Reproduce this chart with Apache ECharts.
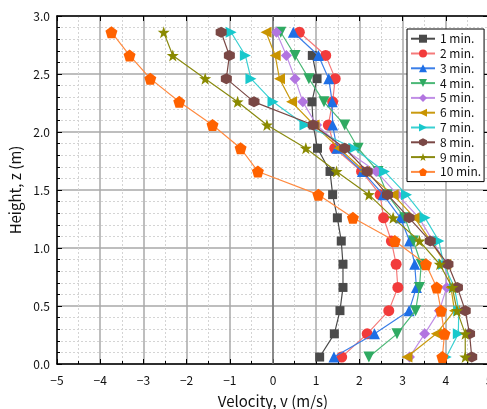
<!DOCTYPE html>
<html>
<head>
<meta charset="utf-8">
<script src="https://cdn.jsdelivr.net/npm/echarts@6/dist/echarts.min.js"></script>
<style>html,body{margin:0;padding:0;background:#fff;}#c{width:487px;height:409px;}</style>
</head>
<body>
<div id="c"></div>
<script>
// Heights (m), top to bottom
var heights = [2.86, 2.66, 2.46, 2.26, 2.06, 1.86, 1.66, 1.46, 1.26, 1.06, 0.86, 0.66, 0.46, 0.26, 0.06];
var seriesNames = ['1 min.', '2 min.', '3 min.', '4 min.', '5 min.', '6 min.', '7 min.', '8 min.', '9 min.', '10 min.'];
// Velocity (m/s) at each height
var v1  = [null, 0.91, 1.02, 0.90, 0.93, 1.03, 1.32, 1.38, 1.49, 1.58, 1.62, 1.62, 1.55, 1.42, 1.08];
var v2  = [0.61, 1.22, 1.44, 1.38, 1.28, 1.43, 2.05, 2.48, 2.56, 2.74, 2.85, 2.89, 2.68, 2.18, 1.59];
var v3  = [0.47, 1.05, 1.29, 1.37, 1.38, 1.48, 2.07, 2.55, 2.95, 3.16, 3.28, 3.32, 3.15, 2.35, 1.41];
var v4  = [0.18, 0.51, 0.83, 1.18, 1.66, 1.97, 2.43, 2.65, 3.05, 3.25, 3.43, 3.39, 3.30, 2.87, 2.22];
var v5  = [0.08, 0.31, 0.51, 0.69, 1.01, 1.62, 2.39, 2.88, 3.38, 3.70, 4.00, 4.02, 3.85, 3.51, 3.16];
var v6  = [-0.16, 0.05, 0.15, 0.43, 0.95, 1.53, 2.12, 2.78, 3.28, 3.65, 4.00, 4.12, 4.20, 3.78, 3.10];
var v7  = [-0.97, -0.64, -0.51, 0.00, 0.74, 1.87, 2.58, 3.09, 3.52, 3.84, 3.95, 4.20, 4.30, 4.29, 4.01];
var v8  = [-1.20, -1.01, -1.08, -0.44, 0.93, 1.66, 2.18, 2.65, 3.15, 3.64, 4.05, 4.27, 4.45, 4.55, 4.60];
var v9  = [-2.53, -2.32, -1.57, -0.82, -0.14, 0.76, 1.47, 2.22, 2.78, 3.39, 3.86, 4.15, 4.26, 4.45, 4.45];
var v10 = [-3.74, -3.32, -2.84, -2.17, -1.40, -0.75, -0.35, 1.05, 1.85, 2.82, 3.54, 3.79, 3.89, 3.97, 3.92];
var xTicks = [-5, -4, -3, -2, -1, 0, 1, 2, 3, 4, 5];
var yTicks = [0.0, 0.5, 1.0, 1.5, 2.0, 2.5, 3.0];

var values = [v1, v2, v3, v4, v5, v6, v7, v8, v9, v10];
var markerColors = ['#4a4a4a', '#f23b3b', '#1e6fe6', '#2faa62', '#b275e0', '#c99400', '#18c8cc', '#7a4845', '#8a8a00', '#ff6200'];
var lineColors   = ['#4a4a4a', '#f57a7a', '#3b7fe8', '#4cb877', '#c08ee6', '#c99a10', '#3ad0d2', '#7a4845', '#8a8a10', '#ff8a40'];
var hexPath = 'path://M0,-10 L8.66,-5 L8.66,5 L0,10 L-8.66,5 L-8.66,-5Z';
var starPath = 'path://M0,-10 L2.35,-3.24 L9.51,-3.09 L3.8,1.24 L5.88,8.09 L0,4 L-5.88,8.09 L-3.8,1.24 L-9.51,-3.09 L-2.35,-3.24Z';
var pentPath = 'path://M0,-10 L9.51,-3.09 L5.88,8.09 L-5.88,8.09 L-9.51,-3.09Z';
var symbols = ['rect', 'circle', 'triangle', 'triangle', 'diamond', 'triangle', 'triangle', hexPath, starPath, pentPath];
var rotates = [0, 0, 0, 180, 0, 90, -90, 0, 0, 0];
var sizes = [9, 11, 11, 11, 11, 11, 11, 11, 12, 12];

var FONT = 'Noto Sans CJK JP';
function fmtNum(v) { return String(v).replace('-', '\u2212'); }

var series = values.map(function (arr, i) {
  var data = [];
  for (var k = 0; k < heights.length; k++) {
    if (arr[k] !== null) data.push([arr[k], heights[k]]);
  }
  var s = {
    name: seriesNames[i],
    type: 'line',
    data: data,
    symbol: symbols[i],
    symbolRotate: rotates[i],
    symbolSize: sizes[i],
    showAllSymbol: true,
    lineStyle: { color: lineColors[i], width: 1.2 },
    itemStyle: { color: markerColors[i], borderWidth: 0 },
    z: 3 + i,
    animation: false
  };
  if (i === 0) {
    s.markLine = {
      silent: true, symbol: 'none', label: { show: false },
      lineStyle: { color: '#777', width: 1.5, type: 'solid' },
      data: [{ xAxis: 0 }], animation: false
    };
  }
  return s;
});

var chart = echarts.init(document.getElementById('c'), null, { renderer: 'canvas' });
chart.setOption({
  animation: false,
  backgroundColor: '#fff',
  grid: { left: 57, right: -2, top: 16, bottom: 45, containLabel: false, outerBoundsMode: 'none' },
  legend: {
    orient: 'vertical', left: 407, top: 29,
    data: seriesNames,
    backgroundColor: '#fff', borderColor: '#000', borderWidth: 1,
    padding: [3, 3, 3, 3],
    itemWidth: 24, itemHeight: 10, itemGap: 1.4,
    textStyle: { fontFamily: FONT, fontSize: 12, color: '#111', lineHeight: 13.4 }
  },
  xAxis: [{
    type: 'value', min: xTicks[0], max: xTicks[xTicks.length - 1], interval: 1,
    name: 'Velocity, v (m/s)', nameLocation: 'middle', nameGap: 30,
    nameTextStyle: { fontFamily: FONT, fontSize: 15, color: '#111' },
    axisLine: { show: true, onZero: false, lineStyle: { color: '#000', width: 1.5 } },
    axisTick: { show: true, inside: true, length: 5, lineStyle: { color: '#000' } },
    minorTick: { show: true, splitNumber: 2, length: 3, lineStyle: { color: '#000' } },
    axisLabel: { fontFamily: FONT, fontSize: 12, color: '#111', margin: 10, formatter: fmtNum },
    splitLine: { show: true, lineStyle: { color: '#a8a8a8', width: 1.5 } },
    minorSplitLine: { show: true, lineStyle: { color: '#d4d4d4', width: 1, type: [2, 2] } }
  }, {
    type: 'value', position: 'top', min: -5, max: 5, interval: 1,
    axisLine: { show: true, onZero: false, lineStyle: { color: '#000', width: 1.5 } },
    axisTick: { show: true, inside: true, length: 5, lineStyle: { color: '#000' } },
    axisLabel: { show: false }, splitLine: { show: false }
  }],
  yAxis: [{
    type: 'value', min: yTicks[0], max: yTicks[yTicks.length - 1], interval: 0.5,
    name: 'Height, z (m)', nameLocation: 'middle', nameGap: 27,
    nameTextStyle: { fontFamily: FONT, fontSize: 15, color: '#111' },
    axisLine: { show: true, onZero: false, lineStyle: { color: '#000', width: 1.5 } },
    axisTick: { show: true, inside: true, length: 5, lineStyle: { color: '#000' } },
    minorTick: { show: true, splitNumber: 5, length: 3, lineStyle: { color: '#000' } },
    axisLabel: { fontFamily: FONT, fontSize: 12, color: '#111', margin: 7, formatter: function (v) { return v.toFixed(1); } },
    splitLine: { show: true, lineStyle: { color: '#a8a8a8', width: 1.5 } },
    minorSplitLine: { show: true, lineStyle: { color: '#d4d4d4', width: 1, type: [2, 2] } }
  }, {
    type: 'value', position: 'right', min: 0, max: 3, interval: 0.5,
    axisLine: { show: true, onZero: false, lineStyle: { color: '#000', width: 1.5 } },
    axisTick: { show: true, inside: true, length: 6, lineStyle: { color: '#000' } },
    axisLabel: { show: false }, splitLine: { show: false }
  }],
  series: series
});
</script>
</body>
</html>
